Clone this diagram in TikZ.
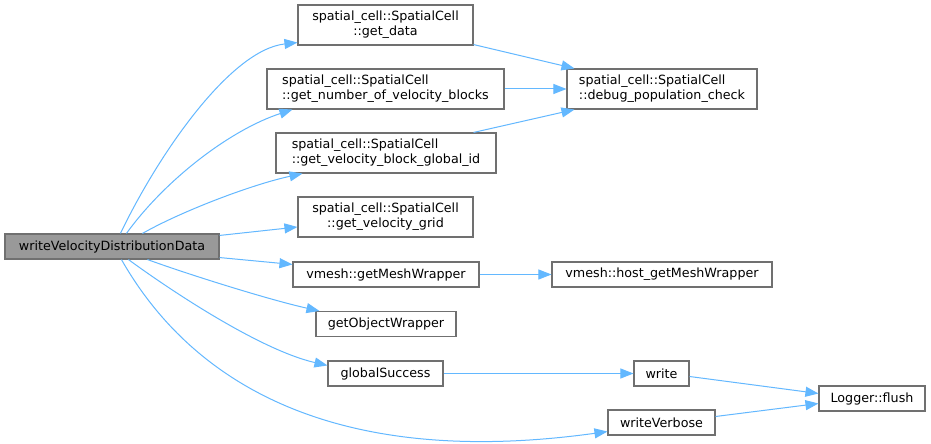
\documentclass[tikz,border=0pt]{standalone}
\usepackage{fontspec}
\setmainfont{DejaVu Sans}
\usetikzlibrary{arrows.meta,calc}
\definecolor{edgeblue}{HTML}{63B8FF}
\definecolor{boxline}{HTML}{707070}
\definecolor{mainfill}{HTML}{999999}
\begin{document}
\begin{tikzpicture}[x=1bp,y=-1bp,
  box/.style={draw=boxline, line width=1.1bp, fill=white, inner sep=0pt, text=black,
    font=\fontsize{12.7bp}{15bp}\selectfont},
  onel/.style={box, minimum height=25bp},
  twol/.style={box, minimum height=40bp},
  edge/.style={draw=edgeblue, line width=1bp, -{Triangle[length=13bp,width=10bp]}}]
\fill[white] (0,0) rectangle (931,444);
\useasboundingbox (0,0) rectangle (931,444);
% nodes
\node[onel, fill=mainfill, minimum width=214bp] (main) at (112,246.5) {writeVelocityDistributionData};
\node[twol, align=center, minimum width=175bp] (getdata) at (385.5,25) {spatial\_cell::SpatialCell\\::get\_data};
\node[twol, align=left, minimum width=237bp] (getnum) at (385.5,89) {spatial\_cell::SpatialCell\\::get\_number\_of\_velocity\_blocks};
\node[twol, align=left, minimum width=220bp] (gvbgi) at (386,153) {spatial\_cell::SpatialCell\\::get\_velocity\_block\_global\_id};
\node[twol, align=center, minimum width=175bp] (gvg) at (385.5,217) {spatial\_cell::SpatialCell\\::get\_velocity\_grid};
\node[onel, minimum width=186bp] (gmw) at (386,274.5) {vmesh::getMeshWrapper};
\node[onel, minimum width=140bp] (gow) at (386,324) {getObjectWrapper};
\node[onel, minimum width=115bp] (gs) at (385.5,373.5) {globalSuccess};
\node[twol, align=left, minimum width=190bp] (debug) at (662,89) {spatial\_cell::SpatialCell\\::debug\_population\_check};
\node[onel, minimum width=220bp] (host) at (662,274.5) {vmesh::host\_getMeshWrapper};
\node[onel, minimum width=55bp] (write) at (661.5,373.5) {write};
\node[onel, minimum width=107bp] (wv) at (661.5,422.5) {writeVerbose};
\node[onel, minimum width=106bp] (flush) at (872,398.5) {Logger::flush};
% edges from main
\draw[edge] ($(main.north west)+(116,0)$) .. controls (158,155) and (230,50) .. ($(getdata.south west)+(0,-3)$);
\draw[edge] ($(main.north west)+(122,0)$) .. controls (165,180) and (230,130) .. ($(getnum.south west)+(26,0)$);
\draw[edge] ($(main.north west)+(138,0)$) .. controls (180,212) and (250,185) .. ($(gvbgi.south west)+(27,0)$);
\draw[edge] ($(main.north east)+(0,2)$) -- ($(gvg.west)+(0,10)$);
\draw[edge] ($(main.south east)+(0,-2)$) -- ($(gmw.north west)+(0,3)$);
\draw[edge] ($(main.south west)+(143,0)$) .. controls (190,275) and (270,300) .. ($(gow.north west)+(4,0)$);
\draw[edge] ($(main.south west)+(124,0)$) .. controls (170,290) and (260,350) .. ($(gs.north west)+(0,5)$);
\draw[edge] ($(main.south west)+(117,0)$) .. controls (190,380) and (330,470) .. ($(wv.south west)+(0,-4)$);
% other edges
\draw[edge] ($(getdata.south east)+(0,-1)$) -- ($(debug.north west)+(8,0)$);
\draw[edge] (getnum.east) -- (debug.west);
\draw[edge] ($(gvbgi.north east)+(-23,0)$) -- ($(debug.south west)+(8,0)$);
\draw[edge] (gmw.east) -- (host.west);
\draw[edge] (gs.east) -- (write.west);
\draw[edge] ($(write.east)+(0,3)$) -- ($(flush.west)+(0,-5)$);
\draw[edge] ($(wv.east)+(0,-6)$) -- ($(flush.west)+(0,5)$);
\end{tikzpicture}
\end{document}
